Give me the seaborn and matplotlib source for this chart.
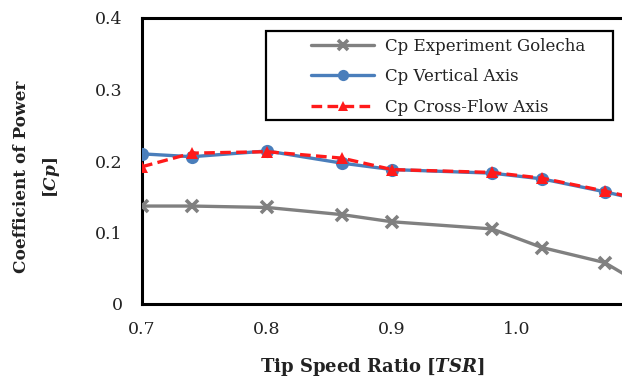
import matplotlib
matplotlib.use("Agg")
import matplotlib.pyplot as plt
from matplotlib.patches import Rectangle
import seaborn as sns
import pandas as pd

# Data
tsr = [0.70, 0.74, 0.80, 0.86, 0.90, 0.98, 1.02, 1.07, 1.10]
cp_golecha = [0.137, 0.137, 0.135, 0.125, 0.115, 0.105, 0.079, 0.058, 0.027]
cp_vertical = [0.210, 0.206, 0.214, 0.197, 0.188, 0.183, 0.175, 0.157, 0.145]
cp_crossflow = [0.192, 0.211, 0.213, 0.204, 0.188, 0.184, 0.176, 0.158, 0.146]

series_names = ["Cp Experiment Golecha", "Cp Vertical Axis", "Cp Cross-Flow Axis"]
x_ticks = [0.7, 0.8, 0.9, 1.0]
x_ticklabels = ["0.7", "0.8", "0.9", "1.0"]
y_ticks = [0, 0.1, 0.2, 0.3, 0.4]
y_ticklabels = ["0", "0.1", "0.2", "0.3", "0.4"]

sns.set_theme(style="white")
plt.rcParams["font.family"] = ["DejaVu Serif"]
plt.rcParams["mathtext.fontset"] = "custom"
plt.rcParams["mathtext.it"] = "DejaVu Serif:italic:bold"
plt.rcParams["mathtext.rm"] = "DejaVu Serif:bold"
plt.rcParams["mathtext.bf"] = "DejaVu Serif:bold"

fig = plt.figure(figsize=(6.22, 3.78), dpi=100)
W, H = 622, 378
ax_left, ax_bottom, ax_top = 142, 304, 18
ax = fig.add_axes([ax_left / W, (H - ax_bottom) / H, 1 - ax_left / W, (ax_bottom - ax_top) / H])

df = pd.DataFrame({"tsr": tsr, "g": cp_golecha, "v": cp_vertical, "c": cp_crossflow})

sns.lineplot(data=df, x="tsr", y="g", ax=ax, sort=False, color="#808080", lw=2.4,
             marker="x", markersize=8.5, markeredgewidth=2.6, markeredgecolor="#808080",
             label=series_names[0], zorder=3)
sns.lineplot(data=df, x="tsr", y="v", ax=ax, sort=False, color="#4A7EBB", lw=2.4,
             marker="o", markersize=9.5, markeredgewidth=0, markerfacecolor="#4A7EBB",
             label=series_names[1], zorder=4)
sns.lineplot(data=df, x="tsr", y="c", ax=ax, sort=False, color="#FF1A1A", lw=2.4,
             linestyle=(0, (3.2, 1.6)), marker="^", markersize=9, markeredgewidth=0,
             markerfacecolor="#FF1A1A", label=series_names[2], zorder=5)

ax.set_xlim(0.7, 0.7 + (W - ax_left) / 1250)
ax.set_ylim(0, 0.4)
ax.set_xticks(x_ticks)
ax.set_xticklabels(x_ticklabels)
ax.set_yticks(y_ticks)
ax.set_yticklabels(y_ticklabels)
ax.tick_params(axis="x", direction="in", length=5, width=2, labelsize=12.5, pad=12, colors="black")
ax.tick_params(axis="y", length=0, labelsize=12.5, pad=14)
for lab in ax.get_xticklabels() + ax.get_yticklabels():
    lab.set_color("#222222")

for side in ["left", "bottom", "top"]:
    ax.spines[side].set_color("black")
    ax.spines[side].set_linewidth(2.2)
ax.spines["right"].set_visible(False)

ax.set_xlabel("")
ax.set_ylabel("")
fig.text(372 / W, 1 - 367 / H, r"Tip Speed Ratio [$\mathit{TSR}$]", ha="center", va="center",
         fontsize=13, fontweight="bold", color="#222222")
fig.text(22 / W, 1 - 177 / H, "Coefficient of Power", ha="center", va="center", rotation=90,
         fontsize=12.2, fontweight="bold", color="#222222")
fig.text(51 / W, 1 - 177 / H, r"[$\mathit{Cp}$]", ha="center", va="center", rotation=90,
         fontsize=12.2, fontweight="bold", color="#222222")

leg = ax.legend(loc="upper left", bbox_to_anchor=(311 / W, 1 - 38 / H), bbox_transform=fig.transFigure,
                frameon=False, fontsize=12,
                handlelength=3.8, handletextpad=0.65, labelspacing=0.8, borderpad=0,
                borderaxespad=0, markerscale=0.85)
for t in leg.get_texts():
    t.set_color("#222222")
fig.add_artist(Rectangle((266 / W, 1 - 120 / H), (613 - 266) / W, (120 - 31) / H,
                         transform=fig.transFigure, fill=False, edgecolor="black",
                         linewidth=1.6, zorder=10))

fig.savefig("out.png", dpi=100)
